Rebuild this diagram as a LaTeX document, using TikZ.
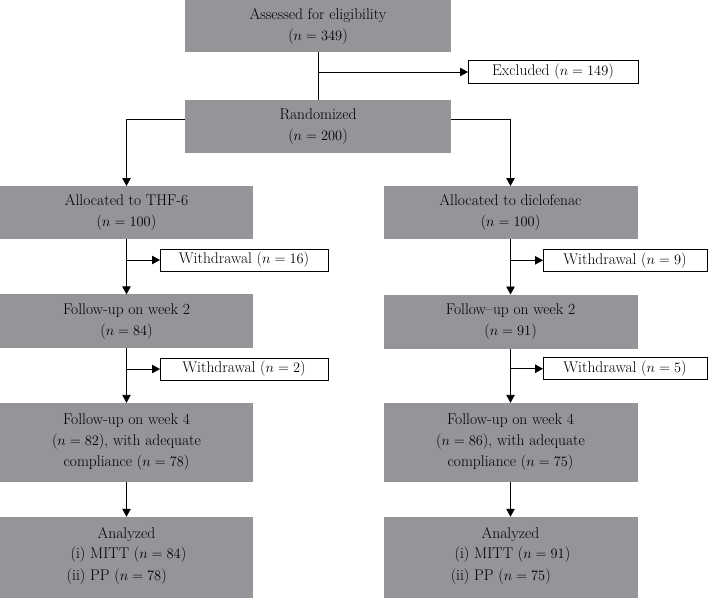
\documentclass[tikz,border=0pt]{standalone}
\usetikzlibrary{arrows.meta}
\definecolor{boxgrey}{RGB}{147,149,152}
\tikzset{
  greybox/.style={fill=boxgrey,inner sep=0pt,outer sep=0pt,align=center,
    minimum width=253pt,minimum height=#1,font=\fontsize{15.5}{21}\selectfont},
  outbox/.style={draw,line width=0.9pt,fill=white,inner sep=0pt,outer sep=0pt,
    minimum height=22pt,minimum width=#1,font=\fontsize{15.5}{21}\selectfont},
  arr/.style={line width=0.9pt,-{Triangle[length=8pt,width=8.5pt]}},
  ln/.style={line width=0.9pt}
}
\begin{document}
\begin{tikzpicture}[x=1pt,y=-1pt]
			\useasboundingbox (0,0) rectangle (708,598);
			\node[greybox=52pt,minimum width=266pt] (assess) at (318,26) {Assessed for eligibility\\($n = 349$)};
			\node[outbox=170pt,minimum height=23pt] (excl) at (553,72) {Excluded ($n = 149$)};
			\node[greybox=52.7pt,minimum width=266pt] (rand) at (318,126.4) {Randomized\\($n = 200$)};
			% left arm
			\node[greybox=53pt] (allocA) at (126.5,212.5) {Allocated to THF-6\\($n = 100$)};
			\node[outbox=168pt] (wdA1) at (244,260) {Withdrawal ($n = 16$)};
			\node[greybox=54pt] (fuA2) at (126.5,321.3) {Follow-up on week 2\\($n = 84$)};
			\node[outbox=168pt] (wdA2) at (244,369) {Withdrawal ($n = 2$)};
			\node[greybox=79pt] (fuA4) at (126.5,442.3) {Follow-up on week 4\\($n = 82$), with adequate\\compliance ($n = 78$)};
			\node[greybox=81.3pt] (anA) at (126.5,557.4) {Analyzed\\[1pt]\begin{tabular}{@{}r@{ }l@{}}(i) & MITT ($n = 84$)\\[1pt] (ii) & PP ($n = 78$)\end{tabular}};
			% right arm
			\node[greybox=53pt,minimum width=254pt] (allocB) at (510.5,212.5) {Allocated to diclofenac\\($n = 100$)};
			\node[outbox=164pt] (wdB1) at (625,260.3) {Withdrawal ($n = 9$)};
			\node[greybox=54pt,minimum width=254pt] (fuB2) at (510.5,321.5) {Follow–up on week 2\\($n = 91$)};
			\node[outbox=164pt] (wdB2) at (625,368.7) {Withdrawal ($n = 5$)};
			\node[greybox=79pt,minimum width=254pt] (fuB4) at (510.5,442.3) {Follow-up on week 4\\($n = 86$), with adequate\\compliance ($n = 75$)};
			\node[greybox=81.3pt,minimum width=254pt] (anB) at (510.5,557.4) {Analyzed\\[1pt]\begin{tabular}{@{}r@{ }l@{}}(i) & MITT ($n = 91$)\\[1pt] (ii) & PP ($n = 75$)\end{tabular}};
			\draw [ln] (assess) to (rand);
			\draw [arr] (assess.south |- excl) to (excl.west);
			\draw [arr] ([yshift=7.4pt]rand.west) -| (allocA.north);
			\draw [arr] ([yshift=7.4pt]rand.east) -| (allocB.north);
			\foreach \c in {A,B} {
				\draw [arr] (alloc\c) to (fu\c2);
				\draw [arr] (alloc\c.south |- wd\c1) to (wd\c1.west);
				\draw [arr] (fu\c2) to (fu\c4);
				\draw [arr] (fu\c2.south |- wd\c2) to (wd\c2.west);
				\draw [arr] (fu\c4) to (an\c);
			}
		\end{tikzpicture}
\end{document}
